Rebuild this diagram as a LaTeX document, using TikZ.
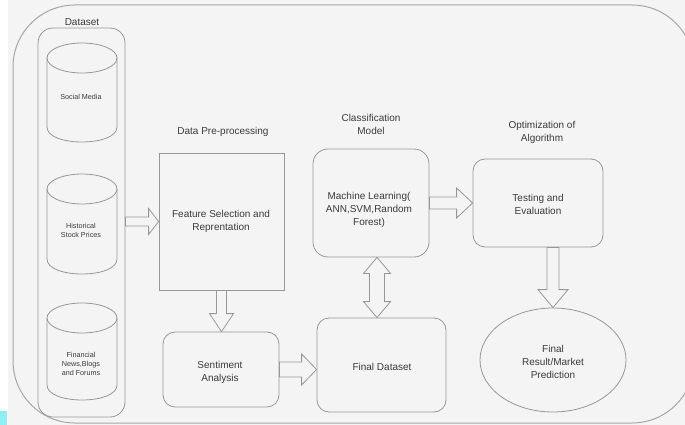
\documentclass[tikz,border=0pt]{standalone}
\usepackage{fontspec}
\setmainfont{Liberation Sans}
\usetikzlibrary{calc,shapes.geometric}
\definecolor{bgc}{HTML}{F4F4F4}
\definecolor{linec}{HTML}{979797}
\definecolor{txtc}{HTML}{3A3A3A}
\definecolor{cyanmark}{HTML}{8EEFF8}
\tikzset{
  ln/.style={draw=linec, line width=0.8pt},
  lbl/.style={text=txtc, font=\fontsize{10}{13}\selectfont, align=center, inner sep=0pt},
  small/.style={text=txtc, font=\fontsize{7.2}{9}\selectfont, align=center, inner sep=0pt},
  sqbox/.style={ln, rectangle, inner sep=0pt},
  rbox/.style={ln, rectangle, rounded corners=12pt, inner sep=0pt},
  blk/.style={ln, line join=miter},
}
% horizontal block arrow: from, to, shaft half, head half, head length
\newcommand\hblock[5]{%
  \draw[blk] let \p1=(#1), \p2=(#2) in
   (\x1,\y1+#3pt) -- (\x2-#5pt,\y1+#3pt) -- (\x2-#5pt,\y1+#4pt) -- (\x2,\y1)
   -- (\x2-#5pt,\y1-#4pt) -- (\x2-#5pt,\y1-#3pt) -- (\x1,\y1-#3pt) -- cycle;}
% vertical (downward) block arrow
\newcommand\vblock[5]{%
  \draw[blk] let \p1=(#1), \p2=(#2) in
   (\x1-#3pt,\y1) -- (\x1-#3pt,\y2+#5pt) -- (\x1-#4pt,\y2+#5pt) -- (\x1,\y2)
   -- (\x1+#4pt,\y2+#5pt) -- (\x1+#3pt,\y2+#5pt) -- (\x1+#3pt,\y1) -- cycle;}
% vertical double block arrow at x
\newcommand\vdblock[6]{%
  \draw[blk] let \p1=(#1), \p2=(#2) in
   (#6,\y1) -- (#6-#4pt,\y1-#5pt) -- (#6-#3pt,\y1-#5pt) -- (#6-#3pt,\y2+#5pt)
   -- (#6-#4pt,\y2+#5pt) -- (#6,\y2) -- (#6+#4pt,\y2+#5pt) -- (#6+#3pt,\y2+#5pt)
   -- (#6+#3pt,\y1-#5pt) -- (#6+#4pt,\y1-#5pt) -- cycle;}
\begin{document}
\begin{tikzpicture}[x=1pt,y=-1pt]
\useasboundingbox (0,0) rectangle (685,425);
\fill[white] (0,0) rectangle (685,425);
\fill[bgc] (8,0) rectangle (685,425);
\fill[cyanmark] (0,411) rectangle (7,425);
% outer container
\draw[draw=linec!85, line width=1pt, rounded corners=62pt] (13,5) rectangle (694,423);

% dataset container
\node[rbox, rounded corners=15pt, minimum width=87pt, minimum height=389pt] (ds) at (81.5,222.5) {};
\node[lbl] (dslbl) at (82,22) {Dataset};

% cylinders
\foreach \n/\t/\b in {c1/58/127, c2/189/259, c3/318/385}{
  \draw[ln] (47,\t) -- (47,\b) .. controls (47,\b+20) and (117,\b+20) .. (117,\b) -- (117,\t);
  \draw[ln] (82,\t) ellipse [x radius=35pt, y radius=15pt];
}
\node[small] (t1) at (81,97) {Social Media};
\node[small] (t2) at (81,230) {Historical\\Stock Prices};
\node[small] (t3) at (81,364) {Financial\\News,Blogs\\and Forums};

% pre-processing
\node[lbl] (pplbl) at (223,132) {Data Pre-processing};
\node[sqbox, minimum width=125pt, minimum height=137pt] (fs) at (221.5,221.5) {};
\node[lbl] at (221,221) {Feature Selection and\\Reprentation};
\node[rbox, minimum width=116pt, minimum height=75pt] (sa) at (221,369.5) {};
\node[lbl] at (220,372) {Sentiment\\Analysis};

% classification
\node[lbl] (cmlbl) at (371,124) {Classification\\Model};
\node[rbox, rounded corners=15pt, minimum width=116pt, minimum height=108pt] (ml) at (371,203) {};
\node[lbl] at (369,210) {Machine Learning(\\ANN,SVM,Random\\Forest)};
\node[rbox, minimum width=129pt, minimum height=94pt] (fd) at (381.5,365) {};
\node[lbl] at (382,367) {Final Dataset};

% optimization
\node[lbl] (oplbl) at (542,132) {Optimization of\\Algorithm};
\node[rbox, minimum width=130pt, minimum height=88pt] (te) at (538,203) {};
\node[lbl] at (538,204) {Testing and\\Evaluation};
\node[ln, ellipse, minimum width=146pt, minimum height=104pt, inner sep=0pt] (res) at (553,360) {};
\node[lbl] at (553,362) {Final\\Result/Market\\Prediction};

% block arrows
\hblock{ds.east |- fs.west}{fs.west}{4.5}{13}{10}
\vblock{fs.south}{sa.north}{5}{12}{18}
\hblock{sa.east}{fd.west |- sa.east}{7.5}{15.5}{15}
\hblock{ml.east}{te.west |- ml.east}{6}{15}{16}
\vdblock{ml.south}{fd.north}{7.5}{13.5}{16}{377pt}
\vblock{te.south -| res.north}{res.north}{6}{15}{18}
\end{tikzpicture}
\end{document}
